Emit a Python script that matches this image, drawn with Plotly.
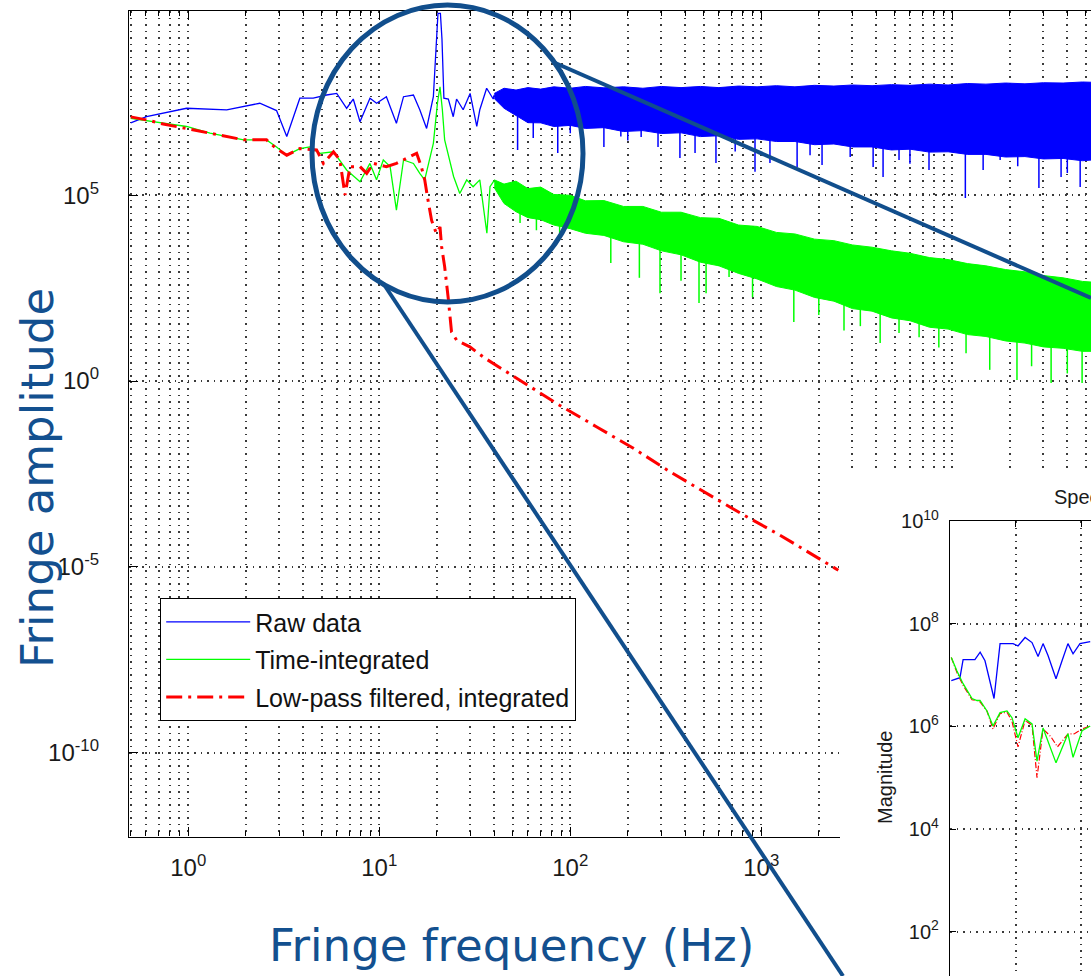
import plotly.graph_objects as go

W, H = 1091, 976

# ---------------- main spectrum data (frequency in Hz, amplitude) ----------------
# Raw data: resolved low-frequency part
raw_f = [0.5, 0.605, 0.98, 1.59, 2.37, 2.90, 3.28, 3.84, 4.51, 5.30, 5.99, 6.75, 7.31, 7.93,
         8.94, 9.69, 10.9, 12.3, 13.4, 15.1, 16.3, 17.7, 19.2, 19.9, 20.3, 20.9, 21.3, 21.8,
         23.0, 24.4, 25.4, 27.5, 29.9, 32.4, 33.6, 36.5, 39.5, 40]
raw_a = [8.9e6, 1.3e7, 2.2e7, 2.0e7, 3.0e7, 1.9e7, 3.8e6, 4.1e7, 4.1e7, 5.0e7, 5.5e7, 2.2e7, 3.9e7, 9.5e6,
         4.1e7, 3.0e7, 4.5e7, 8.7e6, 4.5e7, 5.0e7, 2.0e7, 6.3e6, 4.5e7, 1.6e9, 7.9e9, 7.9e9, 1.6e9, 4.1e7,
         3.9e7, 1.3e7, 3.9e7, 2.0e7, 5.5e7, 7.1e6, 2.0e7, 7.6e7, 3.9e7, 5.0e7]

# Dense high-frequency part: envelope of the noise band
band_f = [40, 45, 52, 60, 70, 82, 100, 120, 150, 190, 240, 300, 380, 480, 600, 760, 950, 1200,
          1500, 1900, 2400, 3000, 3800, 4800, 6000, 7600, 9500, 12000, 15000, 19000, 24000,
          30000, 38000, 48000, 54000]
raw_band_hi = [5.5e7, 7.6e7, 6.8e7, 7.9e7, 7.2e7, 8.3e7, 7.6e7, 8.5e7, 7.8e7, 8.3e7, 7.6e7, 8.5e7,
               7.9e7, 8.5e7, 7.9e7, 8.7e7, 8.3e7, 8.9e7, 8.3e7, 9.1e7, 8.7e7, 9.3e7, 8.9e7, 9.5e7,
               9.1e7, 9.8e7, 9.3e7, 1.02e8, 9.8e7, 1.05e8, 1.0e8, 1.07e8, 1.05e8, 1.12e8, 1.10e8]
raw_band_lo = [4.0e7, 2.2e7, 1.4e7, 9.0e6, 8.9e6, 7.1e6, 7.6e6, 6.3e6, 6.6e6, 5.2e6, 5.5e6, 4.6e6,
               4.8e6, 3.8e6, 4.0e6, 3.2e6, 3.3e6, 2.8e6, 2.8e6, 2.3e6, 2.4e6, 2.0e6, 2.0e6, 1.66e6,
               1.74e6, 1.45e6, 1.48e6, 1.26e6, 1.26e6, 1.07e6, 1.10e6, 9.5e5, 9.8e5, 8.5e5, 8.9e5]
raw_spike_f = [53, 64, 86, 100, 150, 184, 200, 235, 288, 375, 450, 579, 730, 927, 1110, 1540, 1800,
               2080, 2920, 3850, 4340, 5260, 6000, 7550, 11700, 14500, 17800, 22000, 28400, 37100,
               40000, 46700]
raw_spike_a = [1.66e6, 3.5e6, 1.38e6, 4.7e6, 2.0e6, 3.8e6, 3.0e6, 3.7e6, 2.0e6, 1.0e6, 1.38e6, 7.4e5,
               1.5e6, 4.3e5, 7.4e5, 5.8e5, 1.2e6, 6.5e5, 1.07e6, 5.8e5, 3.1e5, 8.9e5, 7.0e5, 4.8e5,
               8.5e4, 4.8e5, 8.9e5, 6.0e5, 1.58e5, 3.1e5, 4.0e5, 1.66e5]
raw_spike_from = [2.0e7, 2.0e7, 2.0e7, 2.0e7, 2.0e7, 2.0e7, 2.0e7, 2.0e7, 2.0e7, 1.5e7, 1.5e7, 1.5e7,
                  1.5e7, 1.0e7, 1.0e7, 1.0e7, 1.0e7, 8.0e6, 8.0e6, 8.0e6, 6.0e6, 6.0e6, 6.0e6, 6.0e6,
                  5.0e6, 5.0e6, 5.0e6, 5.0e6, 4.0e6, 4.0e6, 4.0e6, 4.0e6]

# Time-integrated
time_f = [0.5, 0.74, 0.98, 1.30, 1.95, 2.57, 2.90, 3.28, 3.84, 4.33, 4.89, 5.76, 6.75, 7.93, 8.94,
          9.68, 10.5, 11.4, 12.3, 13.4, 15.1, 16.3, 17.3, 19.2, 20.2, 20.8, 21.4, 22.0, 24.5, 26.4,
          28.7, 31.0, 33.6, 36.6, 38.0, 40]
time_a = [1.17e7, 8.7e6, 7.1e6, 4.7e6, 3.1e6, 3.1e6, 2.0e6, 1.2e6, 1.8e6, 2.0e6, 1.35e6, 1.48e6,
          4.8e5, 2.3e5, 7.2e5, 2.6e5, 8.9e5, 5.9e5, 4.0e4, 8.9e5, 7.2e5, 3.9e5, 2.6e5, 2.5e6, 3.2e7,
          8.3e7, 2.0e7, 3.1e6, 3.2e5, 1.12e5, 2.6e5, 1.7e5, 2.6e5, 9.5e3, 1.7e5, 2.5e5]
time_band_hi = [2.6e5, 2.0e5, 2.4e5, 1.51e5, 1.66e5, 1.05e5, 1.0e5, 7.1e4, 7.2e4, 5.0e4, 5.0e4, 3.5e4,
                3.5e4, 2.5e4, 2.4e4, 1.58e4, 1.45e4, 1.0e4, 9.1e3, 6.6e3, 6.0e3, 4.6e3, 4.0e3, 3.2e3,
                2.75e3, 2.1e3, 1.86e3, 1.45e3, 1.26e3, 1.0e3, 8.7e2, 6.9e2, 6.0e2, 4.8e2, 4.6e2]
time_band_lo = [1.6e5, 6.0e4, 3.6e4, 2.5e4, 2.2e4, 1.58e4, 1.26e4, 9.5e3, 8.3e3, 5.6e3, 4.8e3, 3.2e3,
                2.5e3, 1.58e3, 1.26e3, 7.9e2, 5.6e2, 3.5e2, 2.8e2, 1.78e2, 1.41e2, 89, 76, 50, 42,
                28, 25, 17.8, 15.8, 12.0, 10.5, 8.3, 7.6, 6.3, 6.3]
time_spike_f = [54.6, 66.5, 88, 163, 230, 295, 380, 472, 514, 678, 900, 1480, 2000, 2710, 3300,
                4190, 5260, 6700, 8500, 11800, 15700, 21800, 26000, 32900, 40000, 47800]
time_spike_a = [1.8e4, 1.15e4, 6.3e3, 1.5e3, 6.0e2, 2.3e2, 5.0e2, 1.26e2, 2.3e2, 6.3e2, 1.8e2, 39, 60,
                23, 30, 10.5, 19.5, 15, 8, 5.6, 2.0, 1.07, 2.5, 0.89, 1.6, 0.89]
time_spike_from = [8e4, 6e4, 4e4, 2e4, 8e3, 1e4, 5e3, 5e3, 5e3, 3e3, 2e3, 1.5e3, 6e2, 5e2, 3e2,
                   3e2, 2.5e2, 2e2, 1e2, 1e2, 80, 60, 50, 40, 30, 30]

# Low-pass filtered, integrated
lpf_f = [0.5, 0.605, 0.74, 0.98, 1.30, 1.65, 1.95, 2.57, 2.90, 3.28, 3.84, 4.70, 5.10, 5.76, 6.22,
         6.62, 7.03, 7.93, 8.60, 9.31, 10.9, 12.3, 14.5, 15.7, 16.6, 17.3, 18.0, 18.8, 19.9, 20.8,
         21.2, 22.0, 23.0, 23.9, 25.4, 29.8, 35.8, 54.6, 88.3, 137, 214, 333, 518, 805, 1253,
         1950, 2530]
lpf_a = [1.29e7, 1.07e7, 8.3e6, 6.3e6, 4.7e6, 3.8e6, 3.1e6, 3.1e6, 1.8e6, 1.2e6, 1.8e6, 1.66e6,
         7.2e5, 1.48e6, 8.9e5, 1.02e5, 5.9e5, 5.9e5, 3.9e5, 7.2e5, 5.9e5, 7.2e5, 1.1e6, 1.35e6,
         5.9e5, 2.6e5, 7.4e4, 2.1e4, 9.5e3, 1.4e4, 4.2e3, 1.2e3, 1.6e2, 21, 12.6, 8.3, 4.1, 1.07,
         0.22, 0.059, 0.0155, 3.6e-3, 9.5e-4, 2.5e-4, 7.1e-5, 1.86e-5, 8.1e-6]

# ---------------- inset ("Spectrum ...", linear frequency axis) ----------------
ins_raw_f = [0.1, 0.76, 1.0, 1.9, 2.3, 2.67, 3.36, 3.82, 4.81, 5.19, 5.73, 6.26, 6.72, 7.1, 7.48,
             8.09, 8.55, 9.0, 9.39, 9.92, 10.7]
ins_raw_a = [7.8e6, 8.9e6, 2.0e7, 2.0e7, 2.8e7, 1.9e7, 3.5e6, 4.1e7, 4.1e7, 3.7e7, 5.4e7, 4.3e7,
             2.3e7, 4.1e7, 2.4e7, 8.5e6, 1.9e7, 4.1e7, 2.6e7, 4.1e7, 4.5e7]
ins_time_f = [0.1, 0.53, 1.0, 1.68, 2.06, 2.29, 2.82, 3.28, 3.82, 4.35, 4.73, 5.19, 5.73, 6.26,
              6.64, 7.1, 8.09, 9.0, 9.39, 10.08, 10.7]
ins_time_a = [2.2e7, 1.2e7, 6.8e6, 3.5e6, 3.2e6, 3.2e6, 2.0e6, 1.02e6, 1.86e6, 2.0e6, 1.48e6, 6.0e5,
              1.41e6, 1.12e6, 2.1e5, 9.3e5, 1.95e5, 7.2e5, 2.5e5, 8.3e5, 1.02e6]
ins_lpf_f = [0.1, 0.53, 1.0, 1.68, 2.06, 2.29, 2.82, 3.28, 3.82, 4.35, 4.73, 5.19, 5.73, 6.26,
             6.64, 7.1, 7.7, 8.2, 9.0, 9.5, 10.08, 10.7]
ins_lpf_a = [2.2e7, 1.12e7, 6.3e6, 3.3e6, 3.2e6, 3.0e6, 2.0e6, 8.9e5, 1.78e6, 1.9e6, 1.26e6, 4.0e5,
             1.32e6, 1.05e6, 1.0e5, 8.9e5, 6.3e5, 4.0e5, 7.1e5, 7.2e5, 8.9e5, 1.02e6]

# ---------------- tick definitions ----------------
x_major = [1, 10, 100, 1000, 10000]
x_major_text = ["10<sup>0</sup>", "10<sup>1</sup>", "10<sup>2</sup>", "10<sup>3</sup>", "10<sup>4</sup>"]
x_minor = [m * 10 ** k for k in range(-1, 5) for m in range(2, 10)]
y_major = [1e-10, 1e-5, 1, 1e5]
y_major_text = ["10<sup>-10</sup>", "10<sup>-5</sup>", "10<sup>0</sup>", "10<sup>5</sup>"]
ins_y_ticks = [1e2, 1e4, 1e6, 1e8, 1e10]
ins_y_text = ["10<sup>2</sup>", "10<sup>4</sup>", "10<sup>6</sup>", "10<sup>8</sup>", "10<sup>10</sup>"]
ins_x_ticks = [5, 10]

BLUE, GREEN, RED = "#0000FF", "#00FF00", "#FF0000"
NAVY = "#114E8C"
GRID = dict(showgrid=True, gridcolor="#3a3a3a", gridwidth=1.5, griddash="1.5px,5px")
TICKFONT = dict(family="Liberation Sans, Arial, sans-serif", size=24, color="#1a1a1a")
SMALLFONT = dict(family="Liberation Sans, Arial, sans-serif", size=20, color="#1a1a1a")


def spikes(fs, a0, a1):
    xs, ys = [], []
    for f, s, e in zip(fs, a0, a1):
        xs += [f, f, None]
        ys += [s, e, None]
    return xs, ys


fig = go.Figure()

# Raw data
fig.add_trace(go.Scatter(x=raw_f, y=raw_a, mode="lines", name="Raw data", legendgroup="raw",
                         line=dict(color=BLUE, width=1.3)))
fig.add_trace(go.Scatter(x=band_f, y=raw_band_lo, mode="lines", showlegend=False, legendgroup="raw",
                         line=dict(color=BLUE, width=1)))
fig.add_trace(go.Scatter(x=band_f, y=raw_band_hi, mode="lines", showlegend=False, legendgroup="raw",
                         fill="tonexty", fillcolor=BLUE, line=dict(color=BLUE, width=1)))
sx, sy = spikes(raw_spike_f, raw_spike_from, raw_spike_a)
fig.add_trace(go.Scatter(x=sx, y=sy, mode="lines", showlegend=False, legendgroup="raw",
                         line=dict(color=BLUE, width=1.5)))

# Time-integrated
fig.add_trace(go.Scatter(x=time_f, y=time_a, mode="lines", name="Time-integrated", legendgroup="time",
                         line=dict(color=GREEN, width=1.3)))
fig.add_trace(go.Scatter(x=band_f, y=time_band_lo, mode="lines", showlegend=False, legendgroup="time",
                         line=dict(color=GREEN, width=1)))
fig.add_trace(go.Scatter(x=band_f, y=time_band_hi, mode="lines", showlegend=False, legendgroup="time",
                         fill="tonexty", fillcolor=GREEN, line=dict(color=GREEN, width=1)))
sx, sy = spikes(time_spike_f, time_spike_from, time_spike_a)
fig.add_trace(go.Scatter(x=sx, y=sy, mode="lines", showlegend=False, legendgroup="time",
                         line=dict(color=GREEN, width=1.5)))

# Low-pass filtered
fig.add_trace(go.Scatter(x=lpf_f, y=lpf_a, mode="lines", name="Low-pass filtered, integrated",
                         legendgroup="lpf", line=dict(color=RED, width=3, dash="16px,6px,3px,6px")))

# white cover behind the inset figure (separate subplot drawn above the main one)
fig.add_trace(go.Scatter(x=[0, 1, 1, 0, 0], y=[0, 0, 1, 1, 0], mode="lines", fill="toself",
                         fillcolor="white", line=dict(width=0, color="white"), xaxis="x2", yaxis="y2",
                         showlegend=False, hoverinfo="skip"))

# Inset traces
fig.add_trace(go.Scatter(x=ins_raw_f, y=ins_raw_a, mode="lines", xaxis="x3", yaxis="y3", showlegend=False,
                         line=dict(color=BLUE, width=1.3)))
fig.add_trace(go.Scatter(x=ins_lpf_f, y=ins_lpf_a, mode="lines", xaxis="x3", yaxis="y3", showlegend=False,
                         line=dict(color=RED, width=1.2, dash="6px,2px,1px,2px")))
fig.add_trace(go.Scatter(x=ins_time_f, y=ins_time_a, mode="lines", xaxis="x3", yaxis="y3", showlegend=False,
                         line=dict(color=GREEN, width=1.3)))

# ---------------- layout ----------------
main_x_dom = [129 / W, 1.0]
main_y_dom = [(H - 836.5) / H, (H - 11) / H]

fig.update_layout(
    width=W, height=H, autosize=False,
    margin=dict(l=0, r=0, t=0, b=0, pad=0, autoexpand=False),
    paper_bgcolor="white", plot_bgcolor="white",
    showlegend=True,
    xaxis=dict(type="log", domain=main_x_dom, range=[-0.31, 4.726], anchor="y",
               showline=True, linecolor="black", linewidth=1.3, mirror="ticks",
               ticks="inside", ticklen=9, tickwidth=1.2, tickcolor="black",
               tickmode="array", tickvals=x_major, ticktext=x_major_text, tickfont=TICKFONT,
               ticklabelstandoff=10, zeroline=False, automargin=False, **GRID,
               minor=dict(tickmode="array", tickvals=x_minor, ticks="inside", ticklen=5, tickwidth=1.1,
                          tickcolor="black", showgrid=True, gridcolor="#3a3a3a", gridwidth=1.5,
                          griddash="1.5px,5px")),
    yaxis=dict(type="log", domain=main_y_dom, range=[-12.26, 9.96], anchor="x",
               showline=True, linecolor="black", linewidth=1.3, mirror=False,
               ticks="inside", ticklen=9, tickwidth=1.2, tickcolor="black",
               tickmode="array", tickvals=y_major, ticktext=y_major_text, tickfont=TICKFONT,
               ticklabelstandoff=24, zeroline=False, automargin=False, **GRID),
    xaxis2=dict(domain=[840 / W, 1.0], range=[0, 1], visible=False, fixedrange=True, anchor="y2"),
    yaxis2=dict(domain=[0, (H - 470) / H], range=[0, 1], visible=False, fixedrange=True, anchor="x2"),
    xaxis3=dict(domain=[950 / W, 1.0], range=[0, 10.76], anchor="y3", side="top",
                showline=True, linecolor="black", linewidth=1.2,
                ticks="inside", ticklen=6, tickcolor="black", tickmode="array", tickvals=ins_x_ticks,
                showticklabels=False, zeroline=False, automargin=False, **GRID),
    yaxis3=dict(type="log", domain=[0, (H - 521) / H], range=[1.139, 10.0008], anchor="x3",
                showline=True, linecolor="black", linewidth=1.2,
                ticks="inside", ticklen=6, tickcolor="black", tickmode="array",
                tickvals=ins_y_ticks, ticktext=ins_y_text, tickfont=SMALLFONT,
                ticklabelstandoff=6, zeroline=False, automargin=False, **GRID),
    legend=dict(x=160 / W, y=(H - 598) / H, xanchor="left", yanchor="top",
                bgcolor="white", bordercolor="black", borderwidth=1.2,
                font=dict(family="Liberation Sans, Arial, sans-serif", size=25, color="#111"),
                itemwidth=84, tracegroupgap=2, traceorder="grouped"),
)

TITLE_FONT = dict(family="DejaVu Sans, Noto Sans, sans-serif", size=45, color="#13508F")
fig.add_annotation(text="Fringe frequency (Hz)", xref="paper", yref="paper",
                   x=511 / W, y=(H - 945) / H, showarrow=False, font=TITLE_FONT,
                   xanchor="center", yanchor="middle")
fig.add_annotation(text="Fringe amplitude", xref="paper", yref="paper",
                   x=37 / W, y=(H - 478) / H, showarrow=False, font=TITLE_FONT, textangle=-90,
                   xanchor="center", yanchor="middle")
fig.add_annotation(text="Magnitude", xref="paper", yref="paper", x=885 / W, y=(H - 778) / H,
                   showarrow=False, textangle=-90, xanchor="center", yanchor="middle", font=SMALLFONT)
fig.add_annotation(text="Spectrum", xref="paper", yref="paper", x=1052 / W, y=(H - 497) / H,
                   showarrow=False, xanchor="left", yanchor="middle", font=SMALLFONT)

# magnifier circle and connecting lines (slide decoration)
fig.add_shape(type="circle", xref="paper", yref="paper", layer="above",
              x0=312 / W, x1=583 / W, y0=(H - 302) / H, y1=(H - 5) / H,
              line=dict(color=NAVY, width=5))
fig.add_shape(type="line", xref="paper", yref="paper", layer="above",
              x0=553 / W, y0=(H - 62) / H, x1=1091 / W, y1=(H - 298) / H,
              line=dict(color=NAVY, width=4))
fig.add_shape(type="line", xref="paper", yref="paper", layer="above",
              x0=383 / W, y0=(H - 283) / H, x1=843 / W, y1=0,
              line=dict(color=NAVY, width=4))

fig.write_html("out.html", config={"displayModeBar": False},
               post_script="document.body.style.margin='0';document.body.style.overflow='hidden';")
